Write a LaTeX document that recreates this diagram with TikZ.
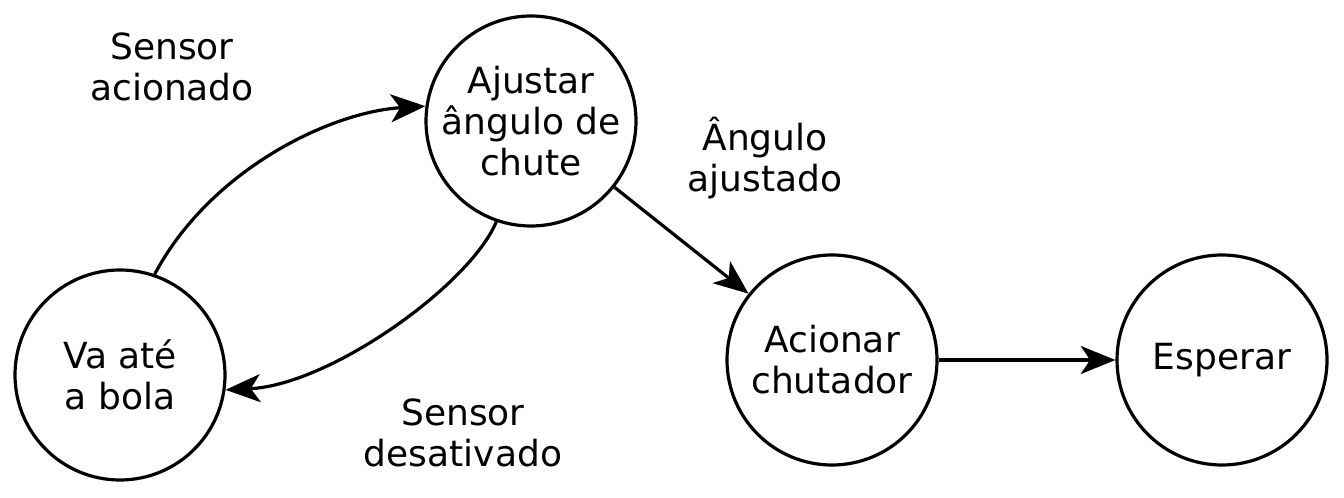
\documentclass[tikz,border=0pt]{standalone}
\usepackage{fontspec}
\setmainfont{DejaVu Sans}
\usetikzlibrary{arrows.meta}
\begin{document}
\begin{tikzpicture}[x=0.75pt,y=-0.75pt,
  state/.style={circle,draw,line width=2.4pt,minimum size=157.5pt,inner sep=0pt,align=center,
    font=\fontsize{27}{30.75}\selectfont},
  lbl/.style={align=center,font=\fontsize{27}{30.75}\selectfont},
  edge/.style={line width=2.4pt,-{Stealth[length=26pt,width=21pt,inset=7pt]}}]
\useasboundingbox (0,0) rectangle (1344,498);
\node[state] (va) at (120,375) {Va até\\a bola};
\node[state] (aj) at (531,121) {Ajustar\\ângulo de\\chute};
\node[state] (ac) at (832,360) {Acionar\\chutador};
\node[state] (es) at (1222,360) {Esperar};
\node[lbl] (l1) at (172,67) {Sensor\\acionado};
\node[lbl] (l2) at (765,158) {Ângulo\\ajustado};
\node[lbl] (l3) at (463,433) {Sensor\\desativado};
\draw[edge] (va.71) .. controls (210,170) and (330,112) .. (aj.172);
\draw[edge] (aj.251) .. controls (470,285) and (330,385) .. (va.352);
\draw[edge] (aj) -- (ac);
\draw[edge] (ac) -- (es);
\end{tikzpicture}
\end{document}
